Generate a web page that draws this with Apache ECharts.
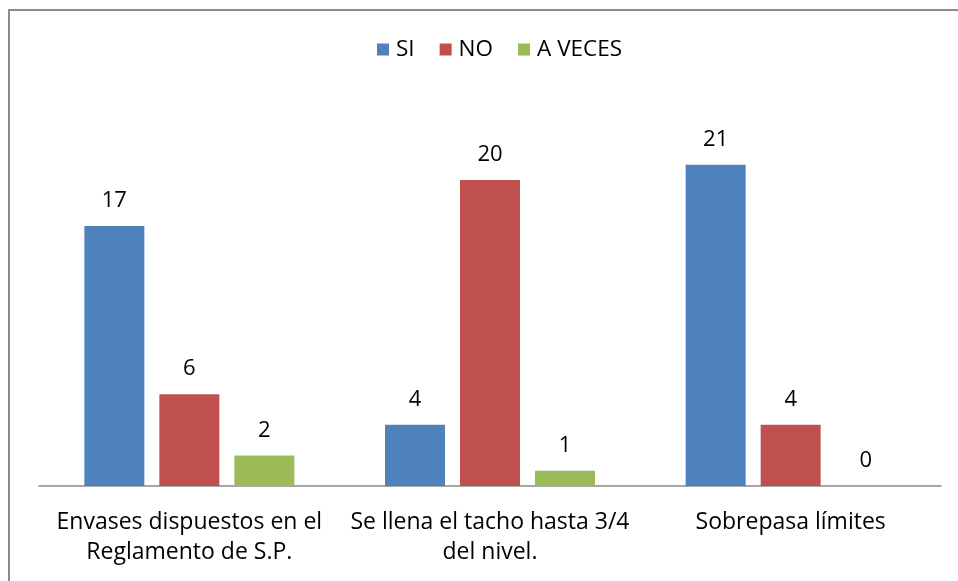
<!DOCTYPE html>
<html>
<head>
<meta charset="utf-8">
<script src="https://cdn.jsdelivr.net/npm/echarts@6/dist/echarts.min.js"></script>
<style>
html,body{margin:0;padding:0;background:#fff;}
#chart{width:958px;height:581px;}
</style>
</head>
<body>
<div id="chart"></div>
<script>
const categories = ["Envases dispuestos en el\nReglamento de S.P.", "Se llena el tacho hasta 3/4\ndel nivel.", "Sobrepasa límites"];
const seriesNames = ["SI", "NO", "A VECES"];
const siValues = [17, 4, 21];
const noValues = [6, 20, 4];
const aVecesValues = [2, 1, 0];
const colors = ["#4F81BD", "#C0504D", "#9BBB59"];

const font = "'Open Sans', sans-serif";
const chart = echarts.init(document.getElementById('chart'));
const mk = (name, data, color) => ({
  name, type: 'bar', data,
  itemStyle: {color},
  barWidth: 60,
  barGap: '25%',
  label: {show: true, position: 'top', distance: 14, color: '#000', fontSize: 22, fontFamily: font}
});
chart.setOption({
  animation: false,
  graphic: [{
    type: 'rect', shape: {x: 9, y: 10, width: 1200, height: 1200},
    style: {fill: 'none', stroke: '#8a8a8a', lineWidth: 2}, silent: true, z: -10
  }],
  legend: {
    top: 33, left: 372,
    itemWidth: 12, itemHeight: 12, itemGap: 25,
    icon: 'rect',
    textStyle: {fontSize: 22.5, fontFamily: font, color: '#000', padding: [0, 0, 0, 2]},
    data: seriesNames
  },
  grid: {left: 39, right: 17, top: 103.5, bottom: 95},
  xAxis: {
    type: 'category', data: categories,
    axisLine: {lineStyle: {color: '#8a8a8a', width: 1.5}},
    axisTick: {show: false},
    axisLabel: {fontSize: 23, fontFamily: font, color: '#000', lineHeight: 30, margin: 21, interval: 0}
  },
  yAxis: {
    type: 'value', min: 0, max: 25,
    show: false, splitLine: {show: false}
  },
  series: [
    mk(seriesNames[0], siValues, colors[0]),
    mk(seriesNames[1], noValues, colors[1]),
    mk(seriesNames[2], aVecesValues, colors[2])
  ]
});
</script>
</body>
</html>
